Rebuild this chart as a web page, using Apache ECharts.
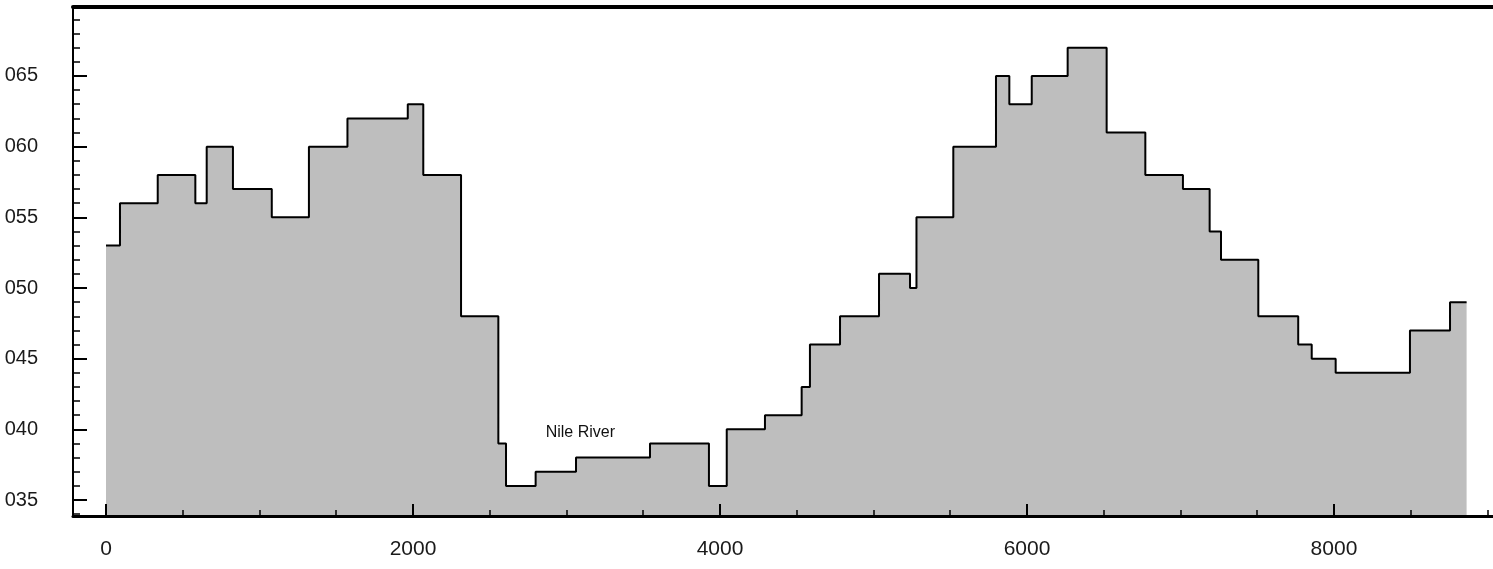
<!DOCTYPE html>
<html>
<head>
<meta charset="utf-8">
<script src="https://cdn.jsdelivr.net/npm/echarts@6/dist/echarts.min.js"></script>
<style>
  html, body { margin: 0; padding: 0; background: #fff; }
  #main { width: 1493px; height: 569px; }
</style>
</head>
<body>
<div id="main"></div>
<script>
// step boundaries along the profile and the level of each step
var distances = [0, 91, 337, 582, 656, 827, 1080, 1322, 1573, 1966, 2067, 2313, 2556, 2606, 2799, 3062, 3544, 3928, 4044, 4293, 4532, 4586, 4782, 5036, 5238, 5280, 5520, 5798, 5885, 6031, 6265, 6519, 6771, 7016, 7190, 7264, 7507, 7767, 7855, 8011, 8495, 8756, 8864];
var elevations = [53, 56, 58, 56, 60, 57, 55, 60, 62, 63, 58, 48, 39, 36, 37, 38, 39, 36, 40, 41, 43, 46, 48, 51, 50, 55, 60, 65, 63, 65, 67, 61, 58, 57, 54, 52, 48, 46, 45, 44, 47, 49];

var xTickValues = [0, 2000, 4000, 6000, 8000];
var xMinorValues = [500, 1000, 1500, 2500, 3000, 3500, 4500, 5000, 5500, 6500, 7000, 7500, 8500, 9000];
var yTickValues = [35, 40, 45, 50, 55, 60, 65];
var yTickLabels = ['035', '040', '045', '050', '055', '060', '065'];
var yMinorValues = [34, 36, 37, 38, 39, 41, 42, 43, 44, 46, 47, 48, 49, 51, 52, 53, 54, 56, 57, 58, 59, 61, 62, 63, 64, 66, 67, 68, 69];

var notes = [{ name: 'Nile River', coord: [3090, 39.8] }];

var xMin = -215, xMax = 9036;
var yMin = 33.87, yMax = 69.88;

var profile = distances.map(function (d, i) {
    return [d, elevations[Math.min(i, elevations.length - 1)]];
});

var myChart = echarts.init(document.getElementById('main'));

var option = {
    backgroundColor: '#fff',
    animation: false,
    grid: { left: 73, right: 0, top: 7, bottom: 53 },
    xAxis: [{
        type: 'value',
        position: 'bottom',
        min: xMin,
        max: xMax,
        z: 5,
        splitLine: { show: false },
        axisLine: { onZero: false, lineStyle: { color: '#000', width: 3 } },
        axisTick: { inside: true, length: 12, customValues: xTickValues, lineStyle: { color: '#000', width: 2 } },
        axisLabel: {
            customValues: xTickValues,
            margin: 23,
            fontSize: 21,
            fontFamily: 'Liberation Sans',
            color: '#1a1a1a',
            formatter: function (v) { return String(v); }
        }
    }, {
        type: 'value',
        position: 'bottom',
        min: xMin,
        max: xMax,
        z: 5,
        splitLine: { show: false },
        axisLine: { show: false, onZero: false },
        axisTick: { inside: true, length: 6, customValues: xMinorValues, lineStyle: { color: '#000', width: 1.5 } },
        axisLabel: { show: false }
    }, {
        type: 'value',
        position: 'top',
        min: xMin,
        max: xMax,
        z: 5,
        splitLine: { show: false },
        axisLine: { onZero: false, lineStyle: { color: '#000', width: 4 } },
        axisTick: { show: false },
        axisLabel: { show: false }
    }],
    yAxis: [{
        type: 'value',
        position: 'left',
        min: yMin,
        max: yMax,
        z: 5,
        splitLine: { show: false },
        axisLine: { show: true, onZero: false, lineStyle: { color: '#000', width: 2 } },
        axisTick: { show: true, inside: true, length: 14, customValues: yTickValues, lineStyle: { color: '#000', width: 2 } },
        axisLabel: {
            customValues: yTickValues,
            margin: 35,
            fontSize: 20,
            fontFamily: 'Liberation Sans',
            color: '#1a1a1a',
            formatter: function (v) {
                var i = yTickValues.indexOf(v);
                return i >= 0 ? yTickLabels[i] : '';
            }
        }
    }, {
        type: 'value',
        position: 'left',
        min: yMin,
        max: yMax,
        z: 5,
        splitLine: { show: false },
        axisLine: { show: false, onZero: false },
        axisTick: { show: true, inside: true, length: 7, customValues: yMinorValues, lineStyle: { color: '#000', width: 1.5 } },
        axisLabel: { show: false }
    }],
    series: [{
        type: 'line',
        step: 'end',
        xAxisIndex: 0,
        yAxisIndex: 0,
        data: profile,
        symbol: 'none',
        lineStyle: { color: '#000', width: 2 },
        areaStyle: { color: '#bebebe', opacity: 1, origin: 'start' },
        markPoint: {
            symbol: 'circle',
            symbolSize: 0,
            label: {
                show: true,
                position: 'inside',
                formatter: '{b}',
                fontSize: 16,
                fontFamily: 'Liberation Sans',
                color: '#111'
            },
            data: notes
        },
        z: 1
    }]
};
myChart.setOption(option);
</script>
</body>
</html>
